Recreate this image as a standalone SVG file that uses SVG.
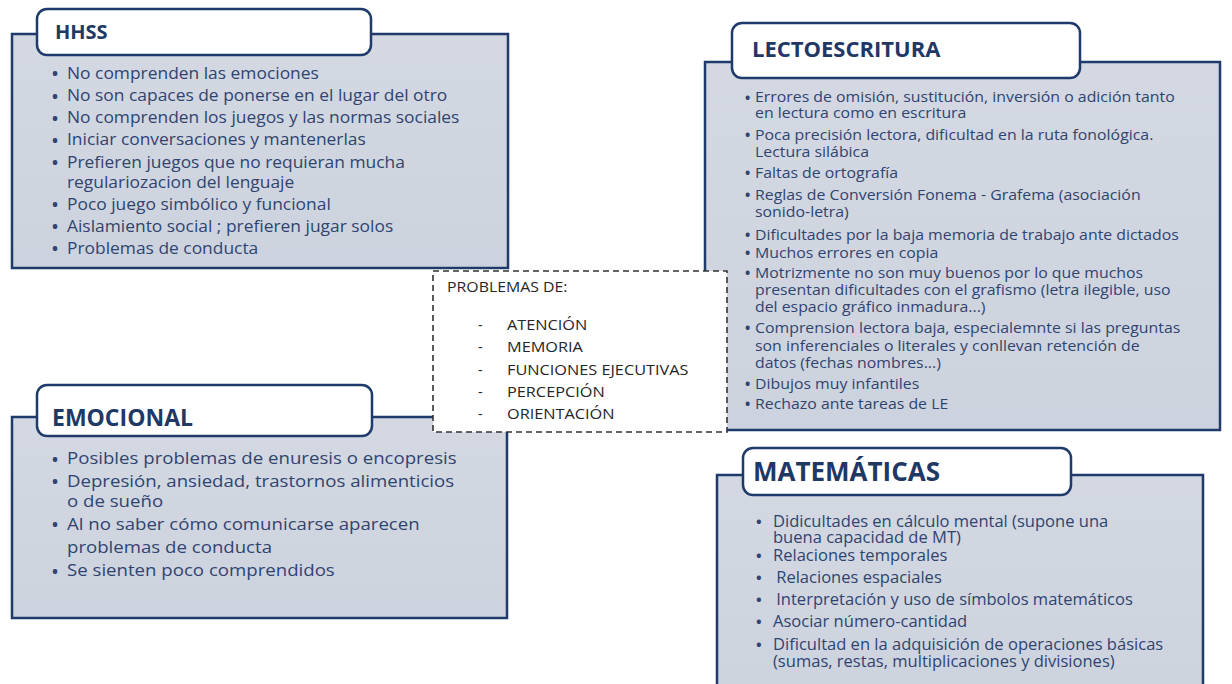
<svg xmlns="http://www.w3.org/2000/svg" width="1232" height="684" viewBox="0 0 1232 684">
<defs>
<linearGradient id="pf" x1="0" y1="0" x2="0" y2="1">
<stop offset="0" stop-color="#d3d8e2"/>
<stop offset="1" stop-color="#cdd3de"/>
</linearGradient>
</defs>
<style>
.panel{fill:url(#pf);stroke:#1f3b6b;stroke-width:2.5}
.tab{fill:#ffffff;stroke:#1f3b6b;stroke-width:2.5}
.title{font-family:"Open Sans","Liberation Sans",sans-serif;font-weight:700;fill:#1f3864}
.body{font-family:"Open Sans","Liberation Sans",sans-serif;fill:#2f4470}
.bul{font-family:"Open Sans","Liberation Sans",sans-serif;fill:#2f4470;font-weight:700}
.mid{font-family:"Open Sans","Liberation Sans",sans-serif;fill:#262626;font-size:14.5px}
.dash{fill:#ffffff;stroke:#333333;stroke-width:1.6;stroke-dasharray:6 4}
</style>
<rect width="1232" height="684" fill="#ffffff"/>

<g id="hhss">
<rect class="panel" x="12" y="34" width="496" height="234"/>
<rect class="tab" x="37" y="9" width="334" height="46" rx="10"/>
<text class="title" x="55" y="39" font-size="20">HHSS</text>
<g class="bul" font-size="16">
<text x="52" y="79">•</text><text x="52" y="101.5">•</text><text x="52" y="123.5">•</text><text x="52" y="145.5">•</text><text x="52" y="168">•</text><text x="52" y="210">•</text><text x="52" y="232">•</text><text x="52" y="254">•</text>
</g>
<g class="body" font-size="16.2" transform="matrix(1.075,0,0,1,-5.03,0)">
<text x="67" y="79">No comprenden las emociones</text>
<text x="67" y="101.5">No son capaces de ponerse en el lugar del otro</text>
<text x="67" y="123.5">No comprenden los juegos y las normas sociales</text>
<text x="67" y="145.5">Iniciar conversaciones y mantenerlas</text>
<text x="67" y="168">Prefieren juegos que no requieran mucha</text>
<text x="67" y="188">regulariozacion del lenguaje</text>
<text x="67" y="210">Poco juego simbólico y funcional</text>
<text x="67" y="232">Aislamiento social ; prefieren jugar solos</text>
<text x="67" y="254">Problemas de conducta</text>
</g>
</g>

<g id="lectoescritura">
<rect class="panel" x="705" y="62" width="515" height="368"/>
<rect class="tab" x="732" y="23" width="348" height="55" rx="10"/>
<text class="title" x="752" y="57" font-size="22">LECTOESCRITURA</text>
<g class="bul" font-size="14">
<text x="745" y="102.5">•</text><text x="745" y="140">•</text><text x="745" y="178">•</text><text x="745" y="200">•</text><text x="745" y="240">•</text><text x="745" y="258">•</text><text x="745" y="278">•</text><text x="745" y="333">•</text><text x="745" y="389">•</text><text x="745" y="409">•</text>
</g>
<g class="body" font-size="14.5" transform="matrix(1.094,0,0,1,-70.97,0)">
<text x="755" y="102.5">Errores de omisión, sustitución, inversión o adición tanto</text>
<text x="755" y="118.5">en lectura como en escritura</text>
<text x="755" y="140">Poca precisión lectora, dificultad en la ruta fonológica.</text>
<text x="755" y="157">Lectura silábica</text>
<text x="755" y="178">Faltas de ortografía</text>
<text x="755" y="200">Reglas de Conversión Fonema - Grafema (asociación</text>
<text x="755" y="217">sonido-letra)</text>
<text x="755" y="240">Dificultades por la baja memoria de trabajo ante dictados</text>
<text x="755" y="258">Muchos errores en copia</text>
<text x="755" y="278">Motrizmente no son muy buenos por lo que muchos</text>
<text x="755" y="295">presentan dificultades con el grafismo (letra ilegible, uso</text>
<text x="755" y="312">del espacio gráfico inmadura...)</text>
<text x="755" y="333">Comprension lectora baja, especialemnte si las preguntas</text>
<text x="755" y="351">son inferenciales o  literales y conllevan retención de</text>
<text x="755" y="368">datos (fechas nombres...)</text>
<text x="755" y="389">Dibujos muy infantiles</text>
<text x="755" y="409">Rechazo ante tareas de LE</text>
</g>
</g>

<g id="emocional">
<rect class="panel" x="12" y="417" width="495" height="201"/>
<rect class="tab" x="37" y="385" width="335" height="51" rx="10"/>
<text class="title" x="52" y="426" font-size="23">EMOCIONAL</text>
<g class="bul" font-size="16">
<text x="52" y="464.5">•</text><text x="52" y="487">•</text><text x="52" y="530">•</text><text x="52" y="576.5">•</text>
</g>
<g class="body" font-size="17" transform="matrix(1.096,0,0,1,-6.43,0)">
<text x="67" y="464.5">Posibles problemas de enuresis o encopresis</text>
<text x="67" y="487">Depresión, ansiedad, trastornos alimenticios</text>
<text x="67" y="507">o de sueño</text>
<text x="67" y="530">Al no saber cómo comunicarse aparecen</text>
<text x="67" y="553">problemas de conducta</text>
<text x="67" y="576.5">Se sienten poco comprendidos</text>
</g>
</g>

<g id="matematicas">
<rect class="panel" x="717" y="475" width="486" height="230"/>
<rect class="tab" x="743" y="448" width="328" height="47" rx="10"/>
<text class="title" x="753" y="481" font-size="26">MATEMÁTICAS</text>
<g class="bul" font-size="15">
<text x="756" y="527">•</text><text x="756" y="561">•</text><text x="756" y="583">•</text><text x="756" y="605">•</text><text x="756" y="627">•</text><text x="756" y="650">•</text>
</g>
<g class="body" font-size="15.5" transform="matrix(1.068,0,0,1,-52.56,0)">
<text x="773" y="527">Didicultades en cálculo mental (supone una</text>
<text x="773" y="543">buena capacidad de MT)</text>
<text x="773" y="561">Relaciones temporales</text>
<text x="776" y="583">Relaciones espaciales</text>
<text x="776" y="605">Interpretación y uso de símbolos matemáticos</text>
<text x="773" y="627">Asociar número-cantidad</text>
<text x="773" y="650">Dificultad en la adquisición de operaciones básicas</text>
<text x="773" y="667">(sumas, restas, multiplicaciones y divisiones)</text>
</g>
</g>

<g id="problemas">
<rect class="dash" x="433" y="271" width="294" height="161"/>
<text class="mid" x="447" y="292" transform="matrix(1.094,0,0,1,-42.02,0)">PROBLEMAS DE:</text>
<g class="mid">
<text x="478" y="330">-</text><text x="478" y="352">-</text><text x="478" y="375">-</text><text x="478" y="397">-</text><text x="478" y="419">-</text>
</g>
<g class="mid" transform="matrix(1.124,0,0,1,-62.87,0)">
<text x="507" y="330">ATENCIÓN</text>
<text x="507" y="352">MEMORIA</text>
<text x="507" y="375">FUNCIONES EJECUTIVAS</text>
<text x="507" y="397">PERCEPCIÓN</text>
<text x="507" y="419">ORIENTACIÓN</text>
</g>
</g>

<g id="connectors"></g>
</svg>
